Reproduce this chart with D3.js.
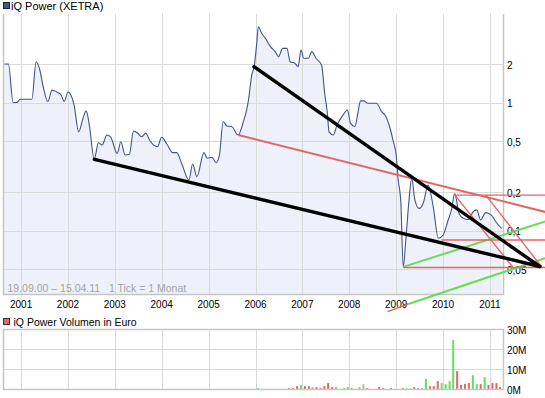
<!DOCTYPE html>
<html>
<head>
<meta charset="utf-8">
<script src="https://cdnjs.cloudflare.com/ajax/libs/d3/7.8.5/d3.min.js"></script>
<style>
  body { margin: 0; background: #fff; }
  svg { display: block; font-family: "Liberation Sans", Arial, sans-serif; }
</style>
</head>
<body>
<svg id="chart"></svg>
<script>
// price, monthly-ish points (decimal year, EUR)
let priceYears = [
    2000.64, 2000.73, 2000.83, 2000.91, 2000.98, 2001.23, 2001.32, 2001.39, 2001.48, 2001.57,
    2001.66, 2001.76, 2001.85, 2001.92, 2002.00, 2002.06, 2002.13, 2002.23, 2002.32, 2002.39,
    2002.46, 2002.56, 2002.65, 2002.73, 2002.83, 2002.91, 2003.05, 2003.13, 2003.22, 2003.31,
    2003.40, 2003.49, 2003.57, 2003.66, 2003.75, 2003.91, 2004.00, 2004.11, 2004.24, 2004.32,
    2004.43, 2004.58, 2004.66, 2004.75, 2004.90, 2004.97, 2005.07, 2005.16, 2005.23, 2005.31,
    2005.39, 2005.49, 2005.63, 2005.74, 2005.81, 2005.85, 2005.92, 2005.97, 2006.03, 2006.06,
    2006.13, 2006.22, 2006.32, 2006.42, 2006.49, 2006.58, 2006.67, 2006.74, 2006.84, 2006.91,
    2006.97, 2007.03, 2007.13, 2007.20, 2007.29, 2007.41, 2007.48, 2007.53, 2007.57, 2007.66,
    2007.74, 2007.87, 2007.96, 2008.03, 2008.12, 2008.19, 2008.24, 2008.31, 2008.40, 2008.58,
    2008.69, 2008.76, 2008.87, 2008.94, 2009.00, 2009.04, 2009.10, 2009.15, 2009.21, 2009.28,
    2009.33, 2009.40, 2009.49, 2009.58, 2009.68, 2009.79, 2009.90, 2010.00, 2010.11, 2010.18,
    2010.25, 2010.34, 2010.43, 2010.54, 2010.64, 2010.72, 2010.80, 2010.91, 2011.03, 2011.15, 2011.25
];
let priceValues = [
    2.00, 2.00, 1.00, 1.00, 1.06, 1.06, 2.08, 1.85, 1.29, 1.02,
    1.25, 1.21, 1.15, 1.02, 1.21, 1.15, 0.96, 0.59, 0.75, 0.86,
    0.65, 0.36, 0.485, 0.466, 0.558, 0.54, 0.40, 0.494, 0.389, 0.394,
    0.60, 0.575, 0.54, 0.575, 0.503, 0.452, 0.535, 0.474, 0.406, 0.406,
    0.331, 0.248, 0.331, 0.263, 0.406, 0.367, 0.373, 0.339, 0.389, 0.708,
    0.656, 0.65, 0.558, 0.708, 0.874, 1.047, 1.64, 1.905, 2.99, 3.91,
    3.48, 3.14, 2.73, 2.50, 2.28, 2.65, 2.65, 2.08, 2.03, 1.905,
    2.57, 2.22, 2.22, 2.50, 2.22, 1.965, 1.15, 0.848, 0.59, 0.558,
    0.667, 0.80, 0.874, 0.688, 0.65, 0.848, 1.03, 1.03, 0.986, 0.986,
    0.848, 0.80, 0.63, 0.494, 0.389, 0.256, 0.163, 0.052, 0.089, 0.184,
    0.256, 0.173, 0.149, 0.165, 0.227, 0.154, 0.087, 0.092, 0.121, 0.145,
    0.195, 0.136, 0.125, 0.122, 0.140, 0.145, 0.121, 0.138, 0.132, 0.114, 0.104
];

// monthly volume (million EUR) and direction of the month
let volMonths = ['2006-01', '2006-09', '2006-10', '2006-11', '2006-12', '2007-01', '2007-02', '2007-03', '2007-04', '2007-05',
    '2007-06', '2007-07', '2007-08', '2007-09', '2007-11', '2007-12', '2008-01', '2008-03', '2008-04', '2008-05',
    '2008-08', '2008-09', '2008-11', '2009-02', '2009-03', '2009-04', '2009-05', '2009-06', '2009-07', '2009-08',
    '2009-09', '2009-10', '2009-11', '2009-12', '2010-01', '2010-02', '2010-03', '2010-04', '2010-05', '2010-06',
    '2010-07', '2010-08', '2010-09', '2010-10', '2010-11', '2010-12', '2011-01', '2011-02', '2011-03'];
let volValues = [0.67, 0.67, 0.67, 1.67, 2.2, 1.67, 1.67, 1.2, 1.2, 0.8,
    1.67, 3.2, 1.2, 1.2, 0.67, 1.2, 0.67, 1.2, 2.7, 0.67,
    1.2, 0.67, 0.67, 0.67, 0.67, 0.67, 1.2, 0.67, 0.67, 5.2,
    1.67, 1.67, 4.2, 3.2, 2.7, 4.2, 24.7, 9.2, 2.2, 2.7,
    3.2, 7.2, 2.7, 2.7, 6.2, 2.2, 3.2, 3.2, 1.2];
let volDir = ['up', 'down', 'down', 'down', 'up', 'down', 'down', 'up', 'down', 'down',
    'down', 'down', 'down', 'up', 'up', 'up', 'down', 'up', 'flat', 'down',
    'down', 'down', 'down', 'down', 'up', 'up', 'down', 'down', 'up', 'up',
    'down', 'down', 'down', 'up', 'up', 'up', 'up', 'down', 'down', 'down',
    'down', 'up', 'up', 'down', 'up', 'down', 'down', 'down', 'down'];

// drawn trend lines: [[year, price], [year, price]]
let blackTrends = [
    [[2002.564, 0.36], [2012.063, 0.0524]],
    [[2005.968, 1.905], [2012.063, 0.0524]]
];
let redTrends = [
    [[2005.633, 0.558], [2012.277, 0.137]],
    [[2010.216, 0.189], [2012.277, 0.189]],
    [[2010.252, 0.189], [2011.488, 0.0519]],
    [[2010.913, 0.189], [2012.106, 0.0519]],
    [[2009.968, 0.0843], [2012.277, 0.0843]],
    [[2009.15, 0.0515], [2012.277, 0.0515]],
    [[2008.815, 0.0233], [2009.259, 0.0267]]
];
let greenTrends = [
    [[2009.15, 0.052], [2012.277, 0.121]],
    [[2009.259, 0.0267], [2012.277, 0.0626]]
];

let yearTicks = [2001, 2002, 2003, 2004, 2005, 2006, 2007, 2008, 2009, 2010, 2011];
let priceTicks = [2, 1, 0.5, 0.2, 0.1, 0.05];
let priceTickLabels = ['2', '1', '0,5', '0,2', '0,1', '0,05'];
let volTicks = [0, 10, 20, 30];
let volTickLabels = ['0M', '10M', '20M', '30M'];

function toDate(y) {
    let yr = Math.floor(y);
    let start = Date.UTC(yr, 0, 1), end = Date.UTC(yr + 1, 0, 1);
    return new Date(start + (y - yr) * (end - start));
}

let width = 545, height = 398;
let plotLeft = 3, plotRight = 503, plotTop = 14, plotBottom = 294;
let volTop = 329.5, volBottom = 389.5;
let gridColor = '#dadada', borderColor = '#c6c6c6';

let svg = d3.select('#chart').attr('width', width).attr('height', height);

let x = d3.scaleUtc().domain([new Date(Date.UTC(2000, 7, 13)), new Date(Date.UTC(2011, 3, 13))]).range([plotLeft, plotRight]);
let y = d3.scaleLog().domain([0.05, 2]).range([269.1, 64]);
let yVol = d3.scaleLinear().domain([0, 30]).range([volBottom, volTop]);

let priceData = priceYears.map(function (d, i) {
    return {date: toDate(d), value: priceValues[i]};
});

/** main panel **/
let main = svg.append('g');

main.append('rect').attr('x', plotLeft).attr('y', plotTop)
    .attr('width', plotRight - plotLeft).attr('height', plotBottom - plotTop).attr('fill', '#fff');

let area = d3.area()
    .x(function (d) { return x(d.date); })
    .y0(plotBottom)
    .y1(function (d) { return y(d.value); })
    .curve(d3.curveMonotoneX);
main.append('path').datum(priceData).attr('d', area).attr('fill', '#eef1f9');

main.selectAll('.vgrid').data(yearTicks).enter().append('line').attr('class', 'vgrid')
    .attr('x1', function (d) { return Math.round(x(toDate(d))) + 0.5; })
    .attr('x2', function (d) { return Math.round(x(toDate(d))) + 0.5; })
    .attr('y1', plotTop).attr('y2', plotBottom)
    .attr('stroke', gridColor);

main.selectAll('.hgrid').data(priceTicks).enter().append('line').attr('class', 'hgrid')
    .attr('x1', plotLeft).attr('x2', plotRight)
    .attr('y1', function (d) { return Math.round(y(d)) + 0.5; })
    .attr('y2', function (d) { return Math.round(y(d)) + 0.5; })
    .attr('stroke', gridColor);

let line = d3.line()
    .x(function (d) { return x(d.date); })
    .y(function (d) { return y(d.value); })
    .curve(d3.curveMonotoneX);
main.append('path').datum(priceData).attr('d', line)
    .attr('fill', 'none').attr('stroke', '#41548a').attr('stroke-width', 1.1);

// frame (no top edge)
main.append('path')
    .attr('d', 'M' + (plotLeft + 0.5) + ',' + plotTop + 'V' + (plotBottom + 0.5) + 'H' + (plotRight + 0.5) + 'V' + plotTop)
    .attr('fill', 'none').attr('stroke', borderColor).attr('stroke-width', 1.5);

main.append('text').attr('x', 7.5).attr('y', 291.5)
    .attr('font-size', '10.5px').attr('fill', '#a4a4a4')
    .text('19.09.00 \u2013 15.04.11\u00a0\u00a0 1 Tick = 1 Monat');

main.selectAll('.ylab').data(priceTicks).enter().append('text').attr('class', 'ylab')
    .attr('x', 507)
    .attr('y', function (d) { return y(d) + 1; })
    .attr('dy', '0.35em')
    .attr('font-size', '10px')
    .text(function (d, i) { return priceTickLabels[i]; });

svg.selectAll('.xlab').data(yearTicks).enter().append('text').attr('class', 'xlab')
    .attr('x', function (d) { return x(toDate(d)); })
    .attr('y', 307.5)
    .attr('text-anchor', 'middle')
    .attr('font-size', '10px')
    .text(function (d) { return d; });

// trend lines
function trendPath(t) {
    return 'M' + x(toDate(t[0][0])) + ',' + y(t[0][1]) + 'L' + x(toDate(t[1][0])) + ',' + y(t[1][1]);
}
svg.selectAll('.green').data(greenTrends).enter().append('path').attr('class', 'green')
    .attr('d', trendPath).attr('stroke', '#66dd55').attr('stroke-width', 2).attr('fill', 'none');
svg.selectAll('.red').data(redTrends).enter().append('path').attr('class', 'red')
    .attr('d', trendPath).attr('stroke', '#e06666')
    .attr('stroke-width', function (d, i) { return i === 0 ? 2 : 1.4; })
    .attr('fill', 'none');
svg.selectAll('.black').data(blackTrends).enter().append('path').attr('class', 'black')
    .attr('d', trendPath).attr('stroke', '#000').attr('stroke-width', 3.4)
    .attr('stroke-linecap', 'round').attr('fill', 'none');

// title legend
svg.append('rect').attr('x', 3.5).attr('y', 2.5).attr('width', 6).attr('height', 6)
    .attr('fill', '#43568a').attr('stroke', '#222');
svg.append('text').attr('x', 11).attr('y', 10).attr('font-size', '11px').text('iQ Power (XETRA)');

/** volume panel **/
let vol = svg.append('g');

vol.selectAll('.vvgrid').data(yearTicks).enter().append('line').attr('class', 'vvgrid')
    .attr('x1', function (d) { return Math.round(x(toDate(d))) + 0.5; })
    .attr('x2', function (d) { return Math.round(x(toDate(d))) + 0.5; })
    .attr('y1', volTop).attr('y2', volBottom)
    .attr('stroke', gridColor);
vol.selectAll('.vhgrid').data([10, 20]).enter().append('line').attr('class', 'vhgrid')
    .attr('x1', plotLeft).attr('x2', plotRight)
    .attr('y1', function (d) { return yVol(d); })
    .attr('y2', function (d) { return yVol(d); })
    .attr('stroke', gridColor);

let volColor = {up: '#66dd66', down: '#e06666', flat: '#bbbbbb'};
vol.selectAll('.vbar').data(volValues).enter().append('rect').attr('class', 'vbar')
    .attr('x', function (d, i) {
        let p = volMonths[i].split('-');
        return x(new Date(Date.UTC(+p[0], +p[1] - 1, 21))) - 1;
    })
    .attr('y', function (d) { return yVol(d); })
    .attr('width', 2)
    .attr('height', function (d) { return volBottom - yVol(d); })
    .attr('fill', function (d, i) { return volColor[volDir[i]]; });

vol.append('rect').attr('x', plotLeft + 0.5).attr('y', volTop)
    .attr('width', plotRight - plotLeft).attr('height', volBottom - volTop)
    .attr('fill', 'none').attr('stroke', borderColor).attr('stroke-width', 1.5);

vol.selectAll('.vlab').data(volTicks).enter().append('text').attr('class', 'vlab')
    .attr('x', 507)
    .attr('y', function (d) { return yVol(d) + 1; })
    .attr('dy', '0.35em')
    .attr('font-size', '10px')
    .text(function (d, i) { return volTickLabels[i]; });

svg.append('rect').attr('x', 3.5).attr('y', 318.5).attr('width', 6).attr('height', 6)
    .attr('fill', '#e06666').attr('stroke', '#333');
svg.append('text').attr('x', 13.5).attr('y', 326).attr('font-size', '10.5px').text('iQ Power Volumen in Euro');
</script>
</body>
</html>
